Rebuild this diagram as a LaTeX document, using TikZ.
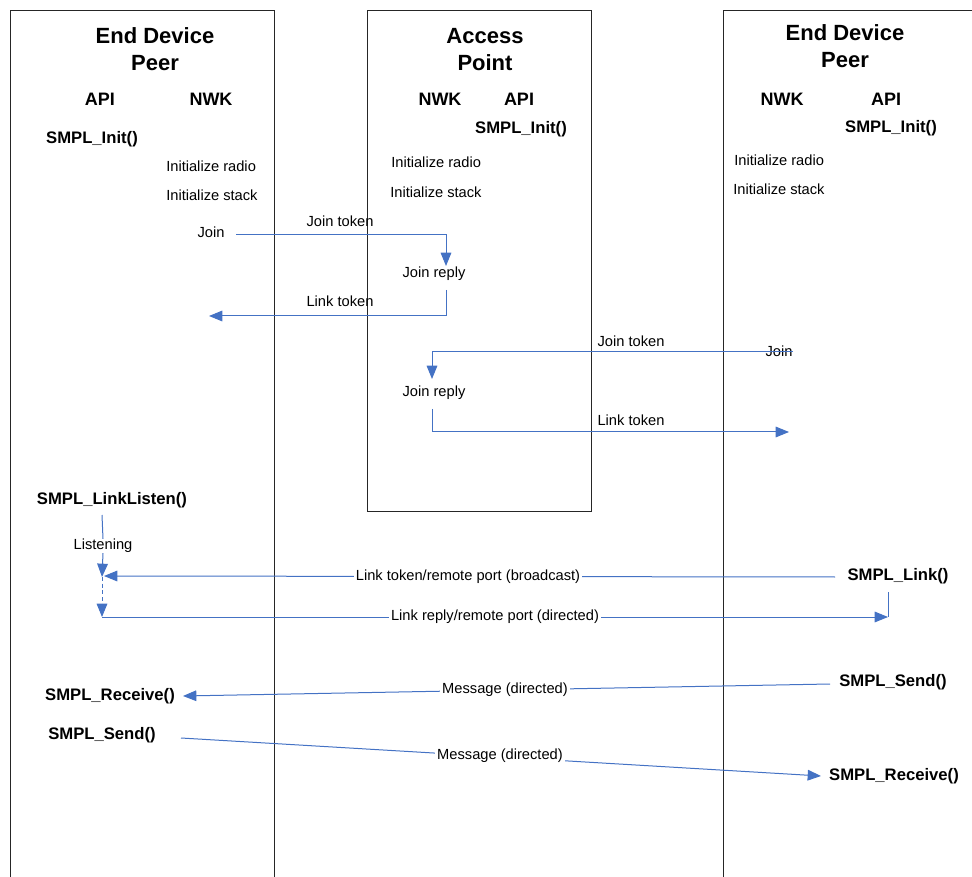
\documentclass[tikz,border=0pt]{standalone}
\usepackage{fontspec}
\setmainfont{Liberation Sans}
\usetikzlibrary{arrows.meta}
\definecolor{flow}{HTML}{4472C4}
\begin{document}
\begin{tikzpicture}[x=0.75pt,y=-0.75pt,
  lane/.style={draw=black!85, line width=0.65pt},
  title/.style={font=\fontsize{16.5}{20.25}\selectfont\bfseries, align=center, inner sep=0pt},
  layer/.style={font=\fontsize{13.5}{16}\selectfont\bfseries, inner sep=0pt},
  call/.style={font=\fontsize{12.5}{15}\selectfont\bfseries, inner sep=0pt},
  note/.style={font=\fontsize{11}{13}\selectfont, inner sep=0pt},
  tag/.style={note, fill=white, inner sep=1.5pt},
  msg/.style={draw=flow, line width=0.75pt},
  tip/.style={msg, -{Triangle[length=10pt,width=8pt]}}
]
\useasboundingbox (0,0) rectangle (972,877);

% lifeline boxes
\draw[lane] (10,877) -- (10,10) -- (274,10) -- (274,877);
\draw[lane] (367,10) rectangle (591,511);
\draw[lane] (723,877) -- (723,10) -- (972,10);

% headers
\node[title] (ttl1) at (155,49.5) {End Device\\Peer};
\node[title] (ttl2) at (485,49.5) {Access\\Point};
\node[title] (ttl3) at (845,46.5) {End Device\\Peer};

\node[layer] (api1) at (100,99) {API};
\node[layer] (nwk1) at (211,99) {NWK};
\node[layer] (nwk2) at (440,99) {NWK};
\node[layer] (api2) at (519,99) {API};
\node[layer] (nwk3) at (782,99) {NWK};
\node[layer] (api3) at (886,99) {API};

% initialisation
\node[call] (init1) at (92,139) {SMPL\_Init()};
\node[call] (init2) at (521,129) {SMPL\_Init()};
\node[call] (init3) at (891,128) {SMPL\_Init()};

\node[note, anchor=west] (radio1) at (166,166) {Initialize radio};
\node[note, anchor=west] (stack1) at (166,195) {Initialize stack};
\node[note, anchor=west] (radio2) at (391,162) {Initialize radio};
\node[note, anchor=west] (stack2) at (390,192) {Initialize stack};
\node[note, anchor=west] (radio3) at (734,160) {Initialize radio};
\node[note, anchor=west] (stack3) at (733,189) {Initialize stack};

% first join exchange
\node[note] (join1) at (211,232) {Join};
\node[note] (jtok1) at (340,221) {Join token};
\node[note] (jrep1) at (434,274) {Join reply};
\node[note] (ltok1) at (340,301) {Link token};
\coordinate (j1a) at (236,235);
\coordinate (j1b) at (446,266);
\coordinate (l1a) at (446,290);
\coordinate (l1b) at (209,316);
\draw[tip] (j1a) -| (j1b);
\draw[tip] (l1a) |- (l1b);

% second join exchange
\node[note] (join2) at (779,351) {Join};
\node[note] (jtok2) at (631,341) {Join token};
\node[note] (jrep2) at (434,393) {Join reply};
\node[note] (ltok2) at (631,420) {Link token};
\coordinate (j2a) at (793,352);
\coordinate (j2b) at (432,379);
\coordinate (l2a) at (432,409);
\coordinate (l2b) at (789,432);
\draw[tip] (j2a) -| (j2b);
\draw[tip] (l2a) |- (l2b);

% linking
\node[call] (listen) at (112,500) {SMPL\_LinkListen()};
\node[note] (listening) at (103,546) {Listening};
\node[call] (link) at (898,576) {SMPL\_Link()};
\coordinate (ls0) at (102,515);
\coordinate (ls1) at (102,577);
\coordinate (ls2) at (102,617);
\coordinate (lk0) at (835,577);
\coordinate (lk1) at (104,576);
\coordinate (lk2) at (888,592);
\coordinate (lk3) at (888,617);
\draw[msg] (ls0) -- (listening.north);
\draw[tip] (listening.south) -- (ls1);
\draw[tip, dash pattern=on 3pt off 2pt] (ls1) -- (ls2);
\draw[tip] (lk0) -- (lk1);
\draw[msg] (lk2) -- (lk3);
\draw[tip] (ls2) -- (lk3);
\node[tag] (bcast) at (468,577) {Link token/remote port (broadcast)};
\node[tag] (reply) at (495,617) {Link reply/remote port (directed)};

% data exchange
\node[call] (recv1) at (110,696) {SMPL\_Receive()};
\node[call] (send1) at (102,735) {SMPL\_Send()};
\node[call] (send2) at (893,682) {SMPL\_Send()};
\node[call] (recv2) at (894,776) {SMPL\_Receive()};
\coordinate (m1a) at (830,684);
\coordinate (m1b) at (183,696);
\coordinate (m2a) at (181,738);
\coordinate (m2b) at (821,776);
\draw[tip] (m1a) -- (m1b);
\draw[tip] (m2a) -- (m2b);
\node[tag] (msg1) at (505,690) {Message (directed)};
\node[tag] (msg2) at (500,756) {Message (directed)};
\end{tikzpicture}
\end{document}
